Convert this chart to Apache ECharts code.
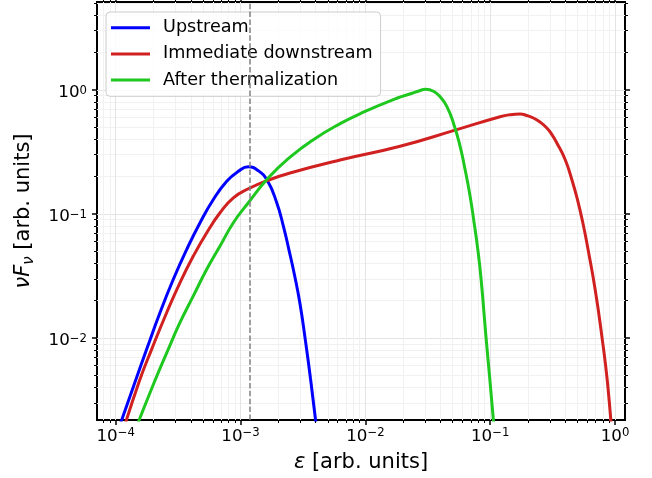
<!DOCTYPE html>
<html>
<head>
<meta charset="utf-8">
<title>Spectra</title>
<script src="https://cdn.jsdelivr.net/npm/echarts@6/dist/echarts.min.js"></script>
<style>
  html, body { margin: 0; padding: 0; background: #fff; }
  #chart { width: 652px; height: 478px; }
</style>
</head>
<body>
<div id="chart"></div>
<script>
// values, energy and nuFnu in arb. units
var upstreamE = [9.89e-5, 1.428e-4, 1.772e-4, 2.265e-4, 2.894e-4, 3.707e-4, 4.737e-4, 6.054e-4, 7.752e-4, 9.55e-4, 1.155e-3, 1.381e-3, 1.640e-3, 1.950e-3, 2.203e-3, 2.447e-3, 2.708e-3, 2.998e-3, 3.288e-3, 3.638e-3, 4.163e-3]
var upstreamF = [1.545e-3, 4.432e-3, 8.157e-3, 1.608e-2, 2.978e-2, 5.187e-2, 8.497e-2, 0.1308, 0.1835, 0.2195, 0.2394, 0.2236, 0.1858, 0.1230, 7.98e-2, 5.091e-2, 3.206e-2, 1.875e-2, 1.0e-2, 4.685e-3, 1.545e-3]

var downstreamE = [1.094e-4, 1.537e-4, 1.943e-4, 2.563e-4, 3.275e-4, 4.185e-4, 5.361e-4, 6.850e-4, 8.757e-4, 1.155e-3, 1.640e-3, 2.493e-3, 6.27e-3, 1.897e-2, 5.400e-2, 0.1200, 0.1444, 0.1736, 0.1965, 0.2220, 0.2511, 0.2842, 0.3105, 0.3418, 0.3983, 0.4506, 0.4995, 0.5521, 0.6009, 0.6927, 0.7880, 0.8692, 0.9497]
var downstreamF = [1.545e-3, 4.432e-3, 8.157e-3, 1.608e-2, 2.802e-2, 4.581e-2, 7.063e-2, 0.1022, 0.1349, 0.1594, 0.1858, 0.2135, 0.2715, 0.3504, 0.4772, 0.6068, 0.6297, 0.6379, 0.6206, 0.5924, 0.5483, 0.4925, 0.4392, 0.3731, 0.2741, 0.1893, 0.1308, 8.497e-2, 5.513e-2, 2.475e-2, 1.0e-2, 4.432e-3, 1.545e-3]

var thermalE = [1.346e-4, 2.009e-4, 2.640e-4, 3.275e-4, 4.185e-4, 5.361e-4, 6.850e-4, 8.757e-4, 1.155e-3, 1.671e-3, 2.493e-3, 3.831e-3, 6.27e-3, 9.64e-3, 1.785e-2, 2.367e-2, 2.644e-2, 3.036e-2, 3.511e-2, 4.000e-2, 4.490e-2, 5.073e-2, 5.740e-2, 6.293e-2, 6.902e-2, 7.430e-2, 7.955e-2, 8.454e-2, 9.271e-2, 9.926e-2, 0.1093]
var thermalF = [1.545e-3, 4.271e-3, 8.157e-3, 1.337e-2, 2.187e-2, 3.582e-2, 5.513e-2, 8.497e-2, 0.1230, 0.1953, 0.2868, 0.3966, 0.5332, 0.6597, 0.8545, 0.9373, 0.9726, 1.0074, 0.9726, 0.8706, 0.7340, 0.5401, 0.3504, 0.2278, 0.1390, 8.497e-2, 5.187e-2, 2.978e-2, 1.0e-2, 4.685e-3, 1.545e-3]

var seriesNames = ['Upstream', 'Immediate downstream', 'After thermalization']
var seriesColors = ['#0000ff', '#d12020', '#1fc81f']
var peakE = 1.18e-3

// axis decades (labels 10^n) and minor multiples
var xDecades = [-4, -3, -2, -1, 0]
var yDecades = [-2, -1, 0]
var minorSteps = [2, 3, 4, 5, 6, 7, 8, 9]
var xRange = [7.08e-5, 1.202]
var yRange = [2.19e-3, 5.09]

var lg = Math.log10
var FONT = 'DejaVu Sans'

function pairs (E, F) {
  return E.map(function (e, i) { return [lg(e), lg(F[i])] })
}
function minors (range) {
  var lo = lg(range[0]), hi = lg(range[1]), out = []
  for (var d = Math.floor(lo); d <= Math.ceil(hi); d++) {
    minorSteps.forEach(function (k) {
      var v = d + lg(k)
      if (v > lo && v < hi) out.push(v)
    })
  }
  return out
}
function powLabel (v) {
  var n = Math.round(v)
  return '{b|10}{e|' + (n < 0 ? '\u2212' + (-n) : n) + '}'
}
function labelRich (shift) {
  return {
    b: { fontFamily: FONT, fontSize: 16.7, lineHeight: 20, color: '#000', padding: [shift, 0, 0, 0] },
    e: { fontFamily: FONT, fontSize: 11.7, lineHeight: 8, verticalAlign: 'top', color: '#000', padding: [shift, 0, 0, 0] }
  }
}

// one axis per side and per tick kind (major / minor)
function axis (range, pos, ticks, major, margin, shift, grid) {
  var a = {
    type: 'value',
    position: pos,
    min: lg(range[0]),
    max: lg(range[1]),
    axisLine: { show: false, onZero: false },
    axisTick: {
      show: true,
      customValues: ticks,
      inside: false,
      length: major ? 5 : 3,
      lineStyle: { color: '#000', width: major ? 1.5 : 1 }
    },
    axisLabel: { show: false },
    splitLine: { show: false },
    minorTick: { show: false }
  }
  if (margin) {
    a.axisLabel = {
      show: true,
      customValues: ticks,
      formatter: powLabel,
      rich: labelRich(shift),
      margin: margin
    }
  }
  if (grid) {
    a.splitLine = { show: true, lineStyle: { color: grid, width: 1 } }
  }
  return a
}

var xMinor = minors(xRange)
var yMinor = minors(yRange)

var xAxes = [
  axis(xRange, 'bottom', xDecades, true, 7, 0, '#e4e4e4'),
  axis(xRange, 'bottom', xMinor, false, 0, 0, '#f1f1f1'),
  axis(xRange, 'top', xDecades, true),
  axis(xRange, 'top', xMinor, false)
]
xAxes[0].name = '{i|\u03b5}{n| [arb. units]}'
xAxes[0].nameLocation = 'middle'
xAxes[0].nameGap = 32
xAxes[0].nameTextStyle = {
  rich: {
    i: { fontFamily: FONT, fontSize: 21, fontStyle: 'italic', color: '#000' },
    n: { fontFamily: FONT, fontSize: 21, color: '#000' }
  }
}

var yAxes = [
  axis(yRange, 'left', yDecades, true, 10, 5, '#e4e4e4'),
  axis(yRange, 'left', yMinor, false, 0, 0, '#f1f1f1'),
  axis(yRange, 'right', yDecades, true),
  axis(yRange, 'right', yMinor, false)
]
yAxes[0].name = '{i|\u03bdF}{s|\u03bd}{n| [arb. units]}'
yAxes[0].nameLocation = 'middle'
yAxes[0].nameGap = 60
yAxes[0].nameTextStyle = {
  rich: {
    i: { fontFamily: FONT, fontSize: 21, fontStyle: 'italic', lineHeight: 26, color: '#000' },
    s: { fontFamily: FONT, fontSize: 15, fontStyle: 'italic', lineHeight: 12, verticalAlign: 'bottom', color: '#000' },
    n: { fontFamily: FONT, fontSize: 21, lineHeight: 26, color: '#000' }
  }
}

var curves = [pairs(upstreamE, upstreamF), pairs(downstreamE, downstreamF), pairs(thermalE, thermalF)]
var series = curves.map(function (d, i) {
  return {
    name: seriesNames[i],
    type: 'line',
    data: d,
    smooth: 0.5,
    symbol: 'none',
    clip: true,
    z: 3,
    lineStyle: { color: seriesColors[i], width: 3 },
    itemStyle: { color: seriesColors[i] }
  }
})
// dashed marker at the upstream peak
series.push({
  type: 'line',
  data: [],
  z: 2,
  markLine: {
    silent: true,
    symbol: ['none', 'none'],
    label: { show: false },
    lineStyle: { color: '#808080', type: [5.5, 2.4], width: 1.5 },
    data: [{ xAxis: lg(peakE) }]
  }
})

var chart = echarts.init(document.getElementById('chart'))
chart.setOption({
  animation: false,
  backgroundColor: '#fff',
  grid: {
    left: 97, right: 27, top: 2, bottom: 57,
    show: true, borderColor: '#000', borderWidth: 2
  },
  legend: {
    data: seriesNames,
    orient: 'vertical',
    left: 106,
    top: 12,
    icon: 'rect',
    itemWidth: 39,
    itemHeight: 3,
    itemGap: 5.5,
    padding: [5.5, 8, 6, 5],
    backgroundColor: 'rgba(255,255,255,0.8)',
    borderColor: '#cccccc',
    borderWidth: 1,
    borderRadius: 4,
    textStyle: { fontFamily: FONT, fontSize: 17.6, lineHeight: 20.6, color: '#000', padding: [0, 0, 0, 8] }
  },
  xAxis: xAxes,
  yAxis: yAxes,
  series: series
})
</script>
</body>
</html>
